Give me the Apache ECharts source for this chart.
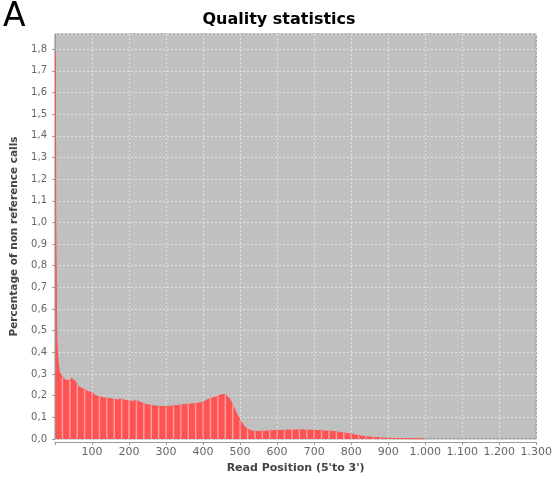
<!DOCTYPE html>
<html>
<head>
<meta charset="utf-8">
<script src="https://cdn.jsdelivr.net/npm/echarts@6/dist/echarts.min.js"></script>
<style>
  html, body { margin: 0; padding: 0; background: #ffffff; }
  #chart { width: 555px; height: 487px; }
</style>
</head>
<body>
<div id="chart"></div>
<script>
// Read position (5' to 3') and the percentage of non-reference calls there
const positions = [
  1, 2, 3, 4, 5, 6, 7, 8, 10, 12, 15, 20, 25, 30, 35, 40, 45, 50, 55, 60, 65, 70,
  80, 90, 100, 105, 110, 120, 130, 140, 150, 160, 170, 180, 190, 200,
  210, 220, 230, 240, 250, 260, 270, 280, 290, 300,
  310, 320, 330, 340, 350, 360, 370, 380, 390, 400,
  410, 420, 430, 440, 450, 460, 470, 480, 490, 500,
  510, 520, 530, 540, 550, 560, 570, 580, 590, 600,
  610, 620, 630, 640, 650, 660, 670, 680, 690, 700,
  710, 720, 730, 740, 750, 760, 770, 780, 790, 800,
  810, 820, 830, 840, 850, 860, 870, 880, 890, 900,
  920, 940, 960, 980, 1000
];
const nonRefPct = [
  1.79, 1.04, 0.81, 0.60, 0.46, 0.42, 0.39, 0.36, 0.33, 0.31, 0.30, 0.285, 0.28, 0.27, 0.275, 0.27, 0.28, 0.285, 0.265, 0.25, 0.24, 0.235,
  0.228, 0.218, 0.215, 0.222, 0.20, 0.195, 0.19, 0.188, 0.186, 0.182, 0.18, 0.184, 0.178, 0.175,
  0.174, 0.178, 0.17, 0.162, 0.158, 0.155, 0.152, 0.151, 0.15, 0.149,
  0.151, 0.153, 0.155, 0.157, 0.159, 0.16, 0.162, 0.163, 0.166, 0.168,
  0.18, 0.186, 0.192, 0.198, 0.204, 0.206, 0.19, 0.158, 0.12, 0.088,
  0.06, 0.045, 0.038, 0.035, 0.035, 0.036, 0.036, 0.037, 0.038, 0.039,
  0.039, 0.04, 0.041, 0.041, 0.041, 0.042, 0.042, 0.041, 0.041, 0.04,
  0.039, 0.038, 0.037, 0.036, 0.035, 0.033, 0.03, 0.028, 0.025, 0.022,
  0.019, 0.016, 0.013, 0.011, 0.009, 0.008, 0.006, 0.005, 0.004, 0.003,
  0.002, 0.0015, 0.001, 0.0008, 0.0005
];
// Axis tick settings
const xTickStep = 100;
const xMax = 1300;
const yTickStep = 0.1;
const yMax = 1.87;

const fillData = positions.map((p, i) => [p, nonRefPct[i]]);
// lighter rendering seams between the individual position bars
const seamData = positions
  .map((p, i) => [p, nonRefPct[i]])
  .filter(d => d[0] >= 20 && d[0] % 20 === 0);

const fmtX = v => {
  if (v === 0) return '';
  const s = String(Math.round(v));
  return s.replace(/\B(?=(\d{3})+(?!\d))/g, '.');
};
const fmtY = v => v.toFixed(1).replace('.', ',');

const chart = echarts.init(document.getElementById('chart'), null, { renderer: 'canvas' });
chart.setOption({
  animation: false,
  backgroundColor: '#ffffff',
  textStyle: { fontFamily: 'DejaVu Sans' },
  title: {
    text: 'Quality statistics',
    left: 274,
    textAlign: 'center',
    top: 7,
    textStyle: { fontFamily: 'DejaVu Sans', fontWeight: 'bold', fontSize: 16, color: '#000000' }
  },
  graphic: [{
    type: 'text',
    left: 3,
    top: 1,
    style: { text: 'A', fontFamily: 'DejaVu Sans', fontSize: 33, fill: '#000000' }
  }],
  grid: {
    left: 55, right: 16, top: 34, bottom: 48,
    show: true,
    backgroundColor: '#c0c0c0',
    borderColor: '#8a8a8a',
    borderWidth: 1
  },
  xAxis: {
    type: 'value',
    min: 0,
    max: xMax,
    interval: xTickStep,
    offset: 3,
    name: "Read Position (5'to 3')",
    nameLocation: 'middle',
    nameGap: 20,
    nameTextStyle: { fontFamily: 'DejaVu Sans', fontWeight: 'bold', fontSize: 11, color: '#444444' },
    axisLine: { show: true, onZero: false, lineStyle: { color: '#9a9a9a', width: 1 } },
    axisTick: { show: true, length: 3, lineStyle: { color: '#9a9a9a' } },
    axisLabel: { formatter: fmtX, color: '#666666', fontSize: 11, margin: 5, fontFamily: 'DejaVu Sans' },
    splitLine: { show: true, lineStyle: { color: 'rgba(235,235,235,0.75)', type: [2, 2], width: 1 } }
  },
  yAxis: {
    type: 'value',
    min: 0,
    max: yMax,
    interval: yTickStep,
    offset: 4,
    name: 'Percentage of non reference calls',
    nameLocation: 'middle',
    nameGap: 22,
    nameTextStyle: { fontFamily: 'DejaVu Sans', fontWeight: 'bold', fontSize: 10.5, color: '#444444' },
    axisLine: { show: true, lineStyle: { color: '#9a9a9a', width: 1 } },
    axisTick: { show: true, length: 3, lineStyle: { color: '#9a9a9a' } },
    axisLabel: { formatter: fmtY, color: '#666666', fontSize: 10, margin: 4, showMaxLabel: false, fontFamily: 'DejaVu Sans' },
    splitLine: { show: true, lineStyle: { color: 'rgba(235,235,235,0.75)', type: [2, 2], width: 1 } }
  },
  series: [
    {
      type: 'line',
      data: fillData,
      symbol: 'none',
      lineStyle: { color: '#ff5252', width: 1 },
      areaStyle: { color: '#ff5252', opacity: 1 },
      z: 2
    },
    {
      type: 'bar',
      data: seamData,
      barWidth: 1.5,
      itemStyle: { color: 'rgba(255,170,170,0.85)' },
      z: 3
    }
  ]
});
</script>
</body>
</html>
